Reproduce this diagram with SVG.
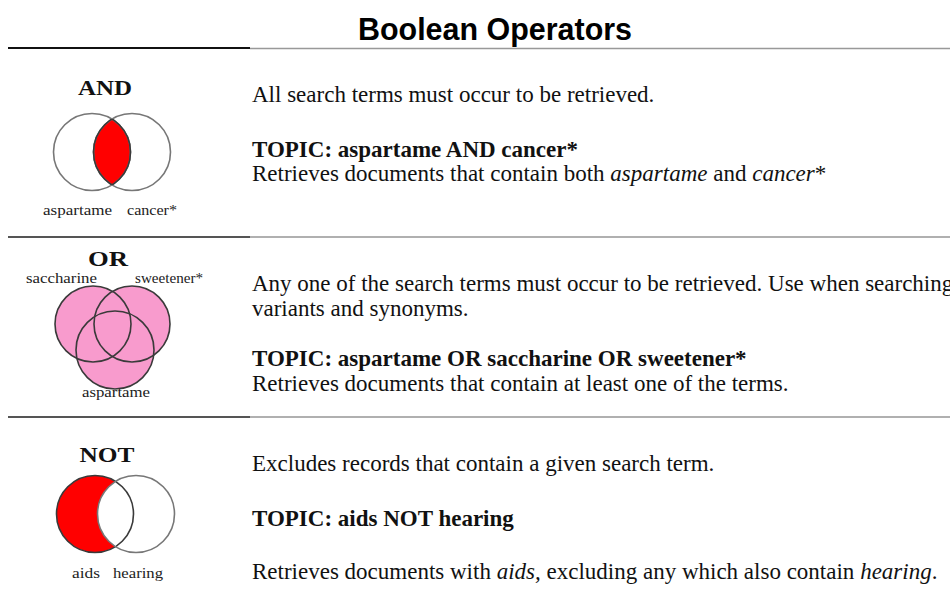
<svg xmlns="http://www.w3.org/2000/svg" width="950" height="615" viewBox="0 0 950 615">
  <style>
    .title { font-family: "Liberation Sans", Arial, sans-serif; font-weight: bold; font-size: 32px; fill: #000; }
    .body { font-family: "Liberation Serif", "Times New Roman", serif; font-size: 23px; fill: #111; }
    .bold { font-weight: bold; }
    .it { font-style: italic; }
    .op { font-family: "Liberation Serif", "Times New Roman", serif; font-weight: bold; font-size: 22px; fill: #111; }
    .lbl { font-family: "Liberation Serif", "Times New Roman", serif; font-size: 14px; fill: #222; }
    .ring { fill: none; stroke: #3a3a3a; stroke-width: 1.6; }
    .ring-light { fill: none; stroke: #777; stroke-width: 1.6; }
    .rule-dark { stroke: #555; stroke-width: 2; }
    .rule-light { stroke: #b0b0b0; stroke-width: 2; }
  </style>
  <defs>
    <clipPath id="clip-and-left"><circle cx="92" cy="152" r="38.5"/></clipPath>
    <clipPath id="clip-and-right"><circle cx="132" cy="152" r="38.5"/></clipPath>
  </defs>

  <rect width="950" height="615" fill="#ffffff"/>

  <!-- heading -->
  <g id="heading">
    <text class="title" x="358" y="40" textLength="274" lengthAdjust="spacingAndGlyphs">Boolean Operators</text>
    <line x1="8" y1="48" x2="250" y2="48" stroke="#111" stroke-width="2"/>
    <line x1="250" y1="48.5" x2="950" y2="48.5" stroke="#999" stroke-width="1.5"/>
  </g>

  <!-- row separators -->
  <g id="connectors">
    <line class="rule-dark" x1="8" y1="237" x2="250" y2="237"/>
    <line class="rule-light" x1="250" y1="237" x2="950" y2="237"/>
    <line class="rule-dark" x1="8" y1="417" x2="250" y2="417"/>
    <line class="rule-light" x1="250" y1="417" x2="950" y2="417"/>
  </g>

  <!-- AND: intersection of two sets -->
  <g id="and-diagram">
    <text class="op" x="105" y="95" text-anchor="middle" textLength="54" lengthAdjust="spacingAndGlyphs">AND</text>
    <circle cx="132" cy="152" r="38.5" fill="#ff0000" clip-path="url(#clip-and-left)"/>
    <circle class="ring-light" cx="92" cy="152" r="38.5"/>
    <circle class="ring-light" cx="132" cy="152" r="38.5"/>
    <circle class="ring" cx="132" cy="152" r="38.5" clip-path="url(#clip-and-left)"/>
    <circle class="ring" cx="92" cy="152" r="38.5" clip-path="url(#clip-and-right)"/>
    <text class="lbl" x="43" y="215" textLength="69" lengthAdjust="spacingAndGlyphs">aspartame</text>
    <text class="lbl" x="127" y="215" textLength="50" lengthAdjust="spacingAndGlyphs">cancer*</text>
  </g>
  <g id="and-text">
    <text class="body" x="252" y="102">All search terms must occur to be retrieved.</text>
    <text class="body bold" x="252" y="157">TOPIC: aspartame AND cancer*</text>
    <text class="body" x="252" y="181">Retrieves documents that contain both <tspan class="it">aspartame</tspan> and <tspan class="it">cancer</tspan>*</text>
  </g>

  <!-- OR: union of three sets -->
  <g id="or-diagram">
    <text class="op" x="108" y="266" text-anchor="middle" textLength="40" lengthAdjust="spacingAndGlyphs">OR</text>
    <text class="lbl" x="26" y="283" textLength="71" lengthAdjust="spacingAndGlyphs">saccharine</text>
    <text class="lbl" x="135" y="283" textLength="68" lengthAdjust="spacingAndGlyphs">sweetener*</text>
    <circle cx="93" cy="324" r="38" fill="#f89bcd"/>
    <circle cx="132" cy="324" r="38" fill="#f89bcd"/>
    <circle cx="115" cy="350" r="39" fill="#f89bcd"/>
    <circle class="ring" cx="93" cy="324" r="38"/>
    <circle class="ring" cx="132" cy="324" r="38"/>
    <circle class="ring" cx="115" cy="350" r="39"/>
    <text class="lbl" x="82" y="397" textLength="68" lengthAdjust="spacingAndGlyphs">aspartame</text>
  </g>
  <g id="or-text">
    <text class="body" x="252" y="291">Any one of the search terms must occur to be retrieved. Use when searching</text>
    <text class="body" x="252" y="316">variants and synonyms.</text>
    <text class="body bold" x="252" y="366">TOPIC: aspartame OR saccharine OR sweetener*</text>
    <text class="body" x="252" y="391">Retrieves documents that contain at least one of the terms.</text>
  </g>

  <!-- NOT: first set minus the second -->
  <g id="not-diagram">
    <text class="op" x="107" y="462" text-anchor="middle" textLength="55" lengthAdjust="spacingAndGlyphs">NOT</text>
    <circle cx="95" cy="514" r="38.5" fill="#ff0000"/>
    <circle cx="136" cy="514" r="38.5" fill="#ffffff"/>
    <circle class="ring" cx="95" cy="514" r="38.5"/>
    <circle class="ring-light" cx="136" cy="514" r="38.5"/>
    <text class="lbl" x="72" y="578" textLength="28" lengthAdjust="spacingAndGlyphs">aids</text>
    <text class="lbl" x="113" y="578" textLength="50" lengthAdjust="spacingAndGlyphs">hearing</text>
  </g>
  <g id="not-text">
    <text class="body" x="252" y="471">Excludes records that contain a given search term.</text>
    <text class="body bold" x="252" y="526">TOPIC: aids NOT hearing</text>
    <text class="body" x="252" y="579">Retrieves documents with <tspan class="it">aids,</tspan> excluding any which also contain <tspan class="it">hearing</tspan>.</text>
  </g>
</svg>
